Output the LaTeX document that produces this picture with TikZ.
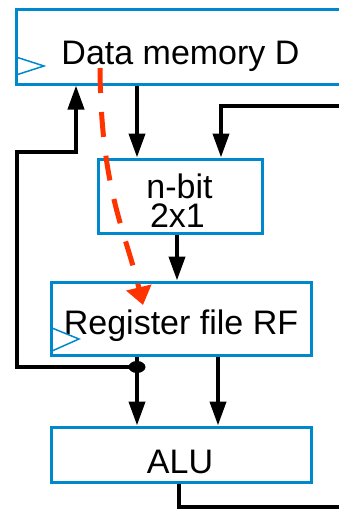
\documentclass[tikz,border=0pt]{standalone}
\usepackage{fontspec}
\setmainfont{Liberation Sans}
\usetikzlibrary{arrows.meta,shapes.geometric}
\definecolor{boxblue}{RGB}{0,136,204}
\definecolor{hotred}{RGB}{255,51,0}
\begin{document}
\begin{tikzpicture}[x=1pt,y=-1pt,
  box/.style={draw=boxblue,line width=3pt,inner sep=0pt,rectangle},
  wire/.style={line width=4pt,black},
  arr/.style={wire,-{Triangle[length=24pt,width=16pt]}},
  lbl/.style={font=\fontsize{34}{34}\selectfont,anchor=base,inner sep=0pt},
  clk/.style={draw=boxblue,line width=1.5pt},
  redpath/.style={draw=hotred,line width=5pt,dash pattern=on 25pt off 19pt,
    -{Triangle[length=18pt,width=25pt]}}]
\useasboundingbox (0,0) rectangle (339,509);
% boxes
\node[box,minimum width=329pt,minimum height=75pt] (dm) at (180.5,46.5) {};
\node[box,minimum width=164pt,minimum height=74pt] (mux) at (180,196) {};
\node[box,minimum width=260pt,minimum height=73pt] (rf) at (181,318.5) {};
\node[box,minimum width=260pt,minimum height=55pt] (alu) at (181,454.5) {};
% labels
\node[lbl] (dmt) at (180.5,64) {Data memory D};
\node[lbl] (muxa) at (179.5,198) {n-bit};
\node[lbl] (muxb) at (177.5,227) {2x1};
\node[lbl] (rft) at (181,334) {Register file RF};
\node[lbl] (alut) at (180,473) {ALU};
% clock marks
\draw[clk] (16,57) -- (44,66) -- (16,75);
\draw[clk] (52,328) -- (79,339) -- (52,351);
% x positions
\coordinate (xa) at (137,0);
\coordinate (xb) at (221,0);
\coordinate (xc) at (177,0);
\coordinate (xd) at (218,0);
\coordinate (xf) at (76,0);
\coordinate (xo) at (179,0);
\coordinate (inR) at (345,106);
\coordinate (outR) at (345,507);
% junction dot
\node[fill=black,ellipse,minimum width=17pt,minimum height=12pt,inner sep=0pt] (dot) at (137,367) {};
% wires
\draw[arr] (dm.south -| xa) -- (mux.north -| xa);
\draw[arr] (inR) -| (mux.north -| xb);
\draw[arr] (mux.south -| xc) -- (rf.north -| xc);
\draw[arr] (rf.south -| xa) -- (alu.north -| xa);
\draw[arr] (rf.south -| xd) -- (alu.north -| xd);
\draw[arr] (dot.center) -- (17,367) -- (17,152) -- (76,152) -- (dm.south -| xf);
\draw[wire] (alu.south -| xo) |- (outR);
% red dashed path
\coordinate (rs) at (100,68);
\coordinate (re) at (143,305);
\draw[redpath] (rs) .. controls (101,190) and (125,230) .. (re);
\end{tikzpicture}
\end{document}
